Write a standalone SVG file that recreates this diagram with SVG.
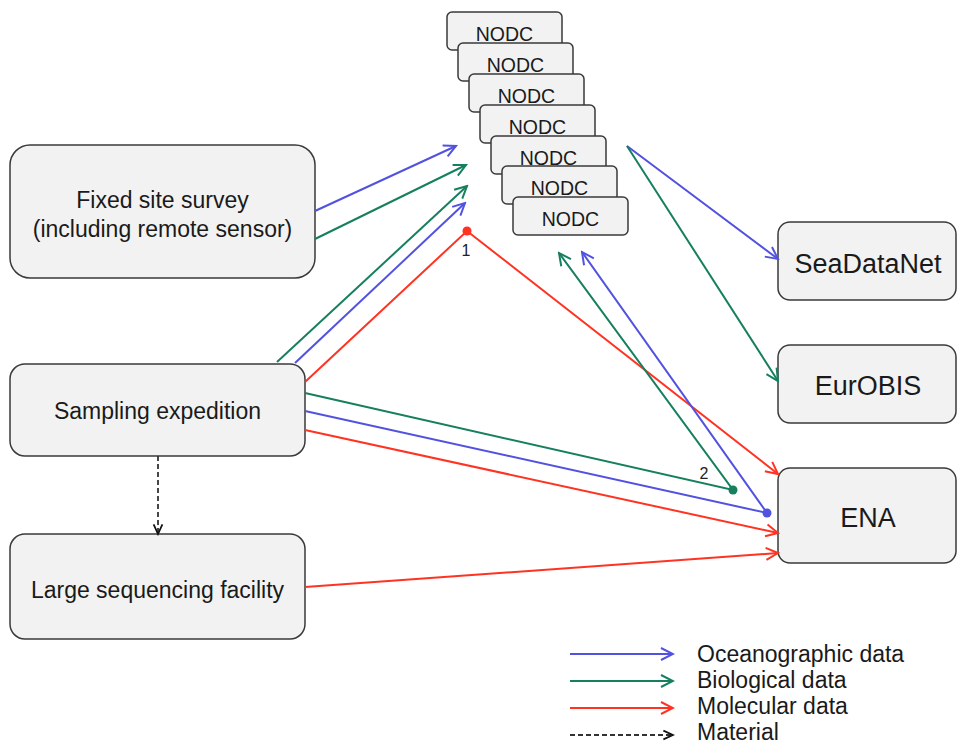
<svg xmlns="http://www.w3.org/2000/svg" width="957" height="745" viewBox="0 0 957 745">
<style>
.box{fill:#f2f2f2;stroke:#3a3a3a;stroke-width:1.5}
.t{font-family:"Liberation Sans",Arial,sans-serif;fill:#1a1a1a;text-anchor:middle}
.big{font-size:23px}
.rt{font-size:27px}
.nd{font-size:19.5px}
.lg{font-family:"Liberation Sans",Arial,sans-serif;fill:#1a1a1a;font-size:23px}
.lbl{font-family:"Liberation Sans",Arial,sans-serif;fill:#222;font-size:16px;text-anchor:middle}
.b{stroke:#5252E0;stroke-width:2;fill:none}
.g{stroke:#167F5E;stroke-width:2;fill:none}
.r{stroke:#FF3322;stroke-width:2;fill:none}
.k{stroke:#333;stroke-width:1.8;fill:none;stroke-dasharray:5,3}
</style>
<defs>
<marker id="ab" viewBox="0 0 16 16" refX="14" refY="8" markerWidth="16" markerHeight="16" orient="auto" markerUnits="userSpaceOnUse"><path d="M2,2 L14,8 L2,14" fill="none" stroke="#5252E0" stroke-width="2"/></marker>
<marker id="ag" viewBox="0 0 16 16" refX="14" refY="8" markerWidth="16" markerHeight="16" orient="auto" markerUnits="userSpaceOnUse"><path d="M2,2 L14,8 L2,14" fill="none" stroke="#167F5E" stroke-width="2"/></marker>
<marker id="ar" viewBox="0 0 16 16" refX="14" refY="8" markerWidth="16" markerHeight="16" orient="auto" markerUnits="userSpaceOnUse"><path d="M2,2 L14,8 L2,14" fill="none" stroke="#FF3322" stroke-width="2"/></marker>
<marker id="ak" viewBox="0 0 16 16" refX="14" refY="8" markerWidth="14" markerHeight="14" orient="auto" markerUnits="userSpaceOnUse"><path d="M3,3 L14,8 L3,13" fill="none" stroke="#111" stroke-width="2"/></marker>
</defs>

<g id="fixed-site">
<rect class="box" x="10" y="145" width="305" height="133" rx="20"/>
<text class="t big" x="162.5" y="208">Fixed site survey</text>
<text class="t big" x="162.5" y="237">(including remote sensor)</text>
</g>
<g id="sampling">
<rect class="box" x="10" y="364" width="295" height="92" rx="15"/>
<text class="t big" x="157.5" y="419">Sampling expedition</text>
</g>
<g id="sequencing">
<rect class="box" x="10" y="534" width="295" height="105" rx="15"/>
<text class="t big" x="157.5" y="598">Large sequencing facility</text>
</g>

<g id="nodc1"><rect class="box" x="447" y="12" width="115" height="38" rx="5"/><text class="t nd" x="504.5" y="40.5">NODC</text></g>
<g id="nodc2"><rect class="box" x="458" y="43" width="115" height="38" rx="5"/><text class="t nd" x="515.5" y="71.5">NODC</text></g>
<g id="nodc3"><rect class="box" x="469" y="74" width="115" height="38" rx="5"/><text class="t nd" x="526.5" y="102.5">NODC</text></g>
<g id="nodc4"><rect class="box" x="480" y="105" width="115" height="38" rx="5"/><text class="t nd" x="537.5" y="133.5">NODC</text></g>
<g id="nodc5"><rect class="box" x="491" y="136" width="115" height="38" rx="5"/><text class="t nd" x="548.5" y="164.5">NODC</text></g>
<g id="nodc6"><rect class="box" x="502" y="166" width="115" height="38" rx="5"/><text class="t nd" x="559.5" y="194.5">NODC</text></g>
<g id="nodc7"><rect class="box" x="513" y="197" width="115" height="38" rx="5"/><text class="t nd" x="570.5" y="225.5">NODC</text></g>

<g id="seadatanet">
<rect class="box" x="778" y="222" width="178" height="78" rx="12"/>
<text class="t rt" x="868" y="273">SeaDataNet</text>
</g>
<g id="eurobis">
<rect class="box" x="778" y="345" width="178" height="78" rx="12"/>
<text class="t rt" x="868" y="395">EurOBIS</text>
</g>
<g id="ena">
<rect class="box" x="778" y="468" width="178" height="95" rx="12"/>
<text class="t rt" x="868" y="527">ENA</text>
</g>

<g id="connectors">
<line class="b" x1="315" y1="211" x2="456" y2="146" marker-end="url(#ab)"/>
<line class="g" x1="315" y1="239" x2="466" y2="165" marker-end="url(#ag)"/>
<line class="g" x1="277" y1="362" x2="467" y2="186" marker-end="url(#ag)"/>
<line class="b" x1="295" y1="363" x2="465" y2="203" marker-end="url(#ab)"/>
<polyline class="r" points="305,382 467,231 778,474" marker-end="url(#ar)"/>
<circle cx="467" cy="231" r="4.5" fill="#FF3322"/>
<polyline class="g" points="305,393 733,490 559,253" marker-end="url(#ag)"/>
<circle cx="733" cy="490" r="4.5" fill="#167F5E"/>
<polyline class="b" points="305,411 767,513 582,252" marker-end="url(#ab)"/>
<circle cx="767" cy="513" r="4.5" fill="#5252E0"/>
<line class="r" x1="305" y1="430" x2="778" y2="533" marker-end="url(#ar)"/>
<line class="r" x1="305" y1="587" x2="778" y2="553" marker-end="url(#ar)"/>
<line class="b" x1="627" y1="146" x2="778" y2="259" marker-end="url(#ab)"/>
<line class="g" x1="627" y1="146" x2="778" y2="381" marker-end="url(#ag)"/>
<line class="k" x1="158" y1="456" x2="158" y2="534" marker-end="url(#ak)"/>
<text class="lbl" x="466" y="256">1</text>
<text class="lbl" x="704" y="479">2</text>
</g>

<g id="legend">
<line class="b" x1="570" y1="654" x2="673" y2="654" marker-end="url(#ab)"/>
<line class="g" x1="570" y1="681" x2="673" y2="681" marker-end="url(#ag)"/>
<line class="r" x1="570" y1="708" x2="673" y2="708" marker-end="url(#ar)"/>
<line class="k" x1="570" y1="735" x2="673" y2="735" marker-end="url(#ak)"/>
<text class="lg" x="697" y="662">Oceanographic data</text>
<text class="lg" x="697" y="688">Biological data</text>
<text class="lg" x="697" y="714">Molecular data</text>
<text class="lg" x="697" y="740">Material</text>
</g>
</svg>
